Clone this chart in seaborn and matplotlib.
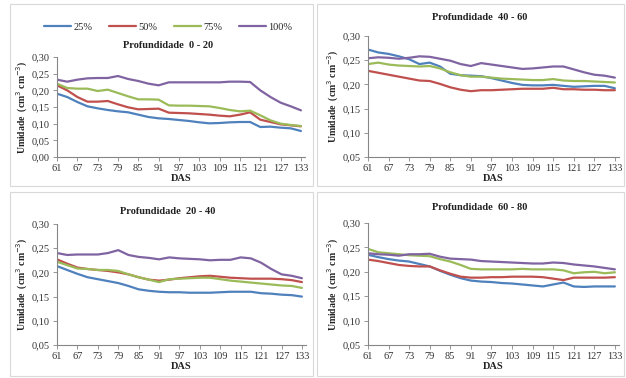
import numpy as np
import pandas as pd
import matplotlib
matplotlib.use("Agg")
import matplotlib.pyplot as plt
import seaborn as sns
from matplotlib.patches import Rectangle

sns.set_theme(style="white")
plt.rcParams['font.family'] = ['Liberation Serif', 'DejaVu Serif']

das = [61, 64, 67, 70, 73, 76, 79, 82, 85, 88, 91, 94, 97, 100, 103, 106, 109, 112, 115, 118, 121, 124, 127, 130, 133]
treatments = ["25%", "50%", "75%", "100%"]
colors = ["#4F81BD", "#C0504D", "#9BBB59", "#8064A2"]
xticks = [61, 67, 73, 79, 85, 91, 97, 103, 109, 115, 121, 127, 133]

# Profundidade 0 - 20
p0_25 = [0.190, 0.180, 0.165, 0.152, 0.146, 0.141, 0.137, 0.134, 0.127, 0.120, 0.116, 0.114, 0.111, 0.108, 0.104, 0.101, 0.102, 0.104, 0.105, 0.105, 0.090, 0.091, 0.088, 0.086, 0.078]
p0_50 = [0.215, 0.200, 0.180, 0.166, 0.166, 0.168, 0.158, 0.149, 0.143, 0.144, 0.145, 0.133, 0.132, 0.131, 0.129, 0.127, 0.124, 0.122, 0.127, 0.134, 0.112, 0.105, 0.098, 0.095, 0.092]
p0_75 = [0.220, 0.207, 0.205, 0.205, 0.198, 0.202, 0.192, 0.182, 0.173, 0.173, 0.172, 0.155, 0.154, 0.154, 0.153, 0.152, 0.147, 0.141, 0.137, 0.139, 0.125, 0.110, 0.100, 0.096, 0.093]
p0_100 = [0.232, 0.226, 0.232, 0.236, 0.237, 0.237, 0.243, 0.234, 0.228, 0.220, 0.215, 0.224, 0.224, 0.224, 0.224, 0.224, 0.224, 0.226, 0.226, 0.225, 0.200, 0.180, 0.163, 0.152, 0.140]

# Profundidade 40 - 60
p40_25 = [0.272, 0.266, 0.263, 0.258, 0.252, 0.242, 0.245, 0.237, 0.222, 0.219, 0.218, 0.217, 0.213, 0.208, 0.203, 0.199, 0.198, 0.198, 0.199, 0.197, 0.195, 0.196, 0.197, 0.197, 0.192]
p40_50 = [0.228, 0.224, 0.220, 0.216, 0.212, 0.208, 0.207, 0.201, 0.194, 0.189, 0.186, 0.188, 0.188, 0.189, 0.190, 0.191, 0.191, 0.191, 0.193, 0.190, 0.190, 0.189, 0.189, 0.188, 0.188]
p40_75 = [0.242, 0.245, 0.241, 0.239, 0.238, 0.237, 0.238, 0.233, 0.225, 0.219, 0.216, 0.216, 0.214, 0.212, 0.211, 0.210, 0.209, 0.209, 0.211, 0.208, 0.207, 0.207, 0.206, 0.205, 0.204]
p40_100 = [0.254, 0.256, 0.255, 0.253, 0.255, 0.258, 0.257, 0.253, 0.249, 0.242, 0.238, 0.244, 0.241, 0.238, 0.235, 0.232, 0.233, 0.235, 0.237, 0.237, 0.231, 0.225, 0.220, 0.218, 0.214]

# Profundidade 20 - 40
p20_25 = [0.213, 0.205, 0.197, 0.190, 0.186, 0.182, 0.178, 0.172, 0.165, 0.162, 0.160, 0.159, 0.159, 0.158, 0.158, 0.158, 0.159, 0.160, 0.160, 0.160, 0.157, 0.156, 0.154, 0.153, 0.150]
p20_50 = [0.227, 0.218, 0.210, 0.207, 0.205, 0.203, 0.200, 0.196, 0.190, 0.185, 0.183, 0.185, 0.188, 0.190, 0.192, 0.193, 0.191, 0.189, 0.188, 0.187, 0.187, 0.187, 0.186, 0.184, 0.180]
p20_75 = [0.222, 0.215, 0.208, 0.207, 0.205, 0.205, 0.203, 0.196, 0.190, 0.185, 0.180, 0.186, 0.187, 0.188, 0.189, 0.189, 0.186, 0.183, 0.181, 0.179, 0.177, 0.175, 0.173, 0.172, 0.168]
p20_100 = [0.240, 0.236, 0.237, 0.237, 0.237, 0.240, 0.246, 0.236, 0.232, 0.230, 0.227, 0.231, 0.229, 0.228, 0.227, 0.225, 0.226, 0.226, 0.231, 0.229, 0.220, 0.207, 0.196, 0.193, 0.188]

# Profundidade 60 - 80
p60_25 = [0.235, 0.230, 0.226, 0.223, 0.221, 0.216, 0.211, 0.202, 0.194, 0.187, 0.182, 0.180, 0.179, 0.177, 0.176, 0.174, 0.172, 0.170, 0.174, 0.178, 0.170, 0.169, 0.170, 0.170, 0.170]
p60_50 = [0.225, 0.222, 0.218, 0.214, 0.212, 0.211, 0.211, 0.203, 0.196, 0.190, 0.188, 0.188, 0.189, 0.189, 0.190, 0.190, 0.190, 0.189, 0.186, 0.183, 0.188, 0.188, 0.188, 0.188, 0.189]
p60_75 = [0.247, 0.240, 0.238, 0.236, 0.234, 0.233, 0.232, 0.226, 0.221, 0.214, 0.206, 0.205, 0.205, 0.205, 0.205, 0.206, 0.205, 0.205, 0.205, 0.203, 0.197, 0.199, 0.200, 0.197, 0.199]
p60_100 = [0.238, 0.236, 0.235, 0.233, 0.236, 0.236, 0.237, 0.231, 0.227, 0.226, 0.225, 0.222, 0.221, 0.220, 0.219, 0.218, 0.217, 0.217, 0.219, 0.218, 0.215, 0.213, 0.211, 0.208, 0.205]

panels = [
    ("Profundidade  0 - 20", [p0_25, p0_50, p0_75, p0_100], (0.0, 0.30), [0.00, 0.05, 0.10, 0.15, 0.20, 0.25, 0.30],
     [57, 305, 57, 157], (168, 45)),
    ("Profundidade  40 - 60", [p40_25, p40_50, p40_75, p40_100], (0.05, 0.30), [0.05, 0.10, 0.15, 0.20, 0.25, 0.30],
     [368, 619, 36, 157], (480, 18)),
    ("Profundidade  20 - 40", [p20_25, p20_50, p20_75, p20_100], (0.05, 0.30), [0.05, 0.10, 0.15, 0.20, 0.25, 0.30],
     [57, 306, 224, 345], (168, 212)),
    ("Profundidade  60 - 80", [p60_25, p60_50, p60_75, p60_100], (0.05, 0.30), [0.05, 0.10, 0.15, 0.20, 0.25, 0.30],
     [368, 619, 223, 345], (480, 207)),
]

W, H = 626, 378
fig = plt.figure(figsize=(W / 100, H / 100), dpi=100)

# panel frames
for (x0, y0, x1, y1) in [(10, 4, 313, 186), (317, 4, 624, 186), (10, 192, 313, 376), (317, 192, 624, 376)]:
    fig.patches.append(Rectangle((x0 / W, 1 - y1 / H), (x1 - x0) / W, (y1 - y0) / H,
                                 transform=fig.transFigure, fill=False, edgecolor="#d9d9d9", linewidth=0.8))

spine_c = "#868686"
for i, (title, series, ylim, yticks, (px0, px1, py0, py1), (tx, ty)) in enumerate(panels):
    ax = fig.add_axes([px0 / W, 1 - py1 / H, (px1 - px0) / W, (py1 - py0) / H])
    rows = []
    for t, vals in zip(treatments, series):
        for d, v in zip(das, vals):
            rows.append({"DAS": d, "Umidade": v, "Tratamento": t})
    df = pd.DataFrame(rows)
    sns.lineplot(data=df, x="DAS", y="Umidade", hue="Tratamento", hue_order=treatments,
                 palette=colors, linewidth=1.6, ax=ax, legend=(i == 0))
    ax.set_xlim(61, 134.2)
    ax.set_ylim(*ylim)
    ax.set_xticks(xticks)
    ax.set_xticklabels([str(x) for x in xticks], fontsize=7.5)
    ax.set_yticks(yticks)
    ax.set_yticklabels([f"{y:.2f}".replace(".", ",") for y in yticks], fontsize=7.5)
    for s in ["top", "right"]:
        ax.spines[s].set_visible(False)
    for s in ["left", "bottom"]:
        ax.spines[s].set_color(spine_c)
        ax.spines[s].set_linewidth(0.8)
    ax.tick_params(axis="both", which="major", length=3, width=0.6, color=spine_c, pad=2,
                   direction="out", bottom=True, left=True, labelcolor="#333333")
    ax.set_xlabel("DAS", fontsize=7.5, fontweight="bold", labelpad=1, color="#222222")
    ax.set_ylabel("Umidade  (cm$^3$ cm$^{-3}$)", fontsize=7, fontweight="bold", labelpad=1.5, color="#222222")
    ax.grid(False)
    fig.text(tx / W, 1 - ty / H, title, ha="center", va="center", fontsize=7.5, fontweight="bold", color="#222222")
    if i == 0:
        handles, labels = ax.get_legend_handles_labels()
        ax.legend_.remove()
        fig.legend(handles, labels, loc="center", bbox_to_anchor=(168 / W, 1 - 27 / H), ncol=4, frameon=False,
                   fontsize=7.5, handlelength=2.6, handletextpad=0.2, columnspacing=1.6, borderpad=0)

fig.savefig("out.png", dpi=100)
